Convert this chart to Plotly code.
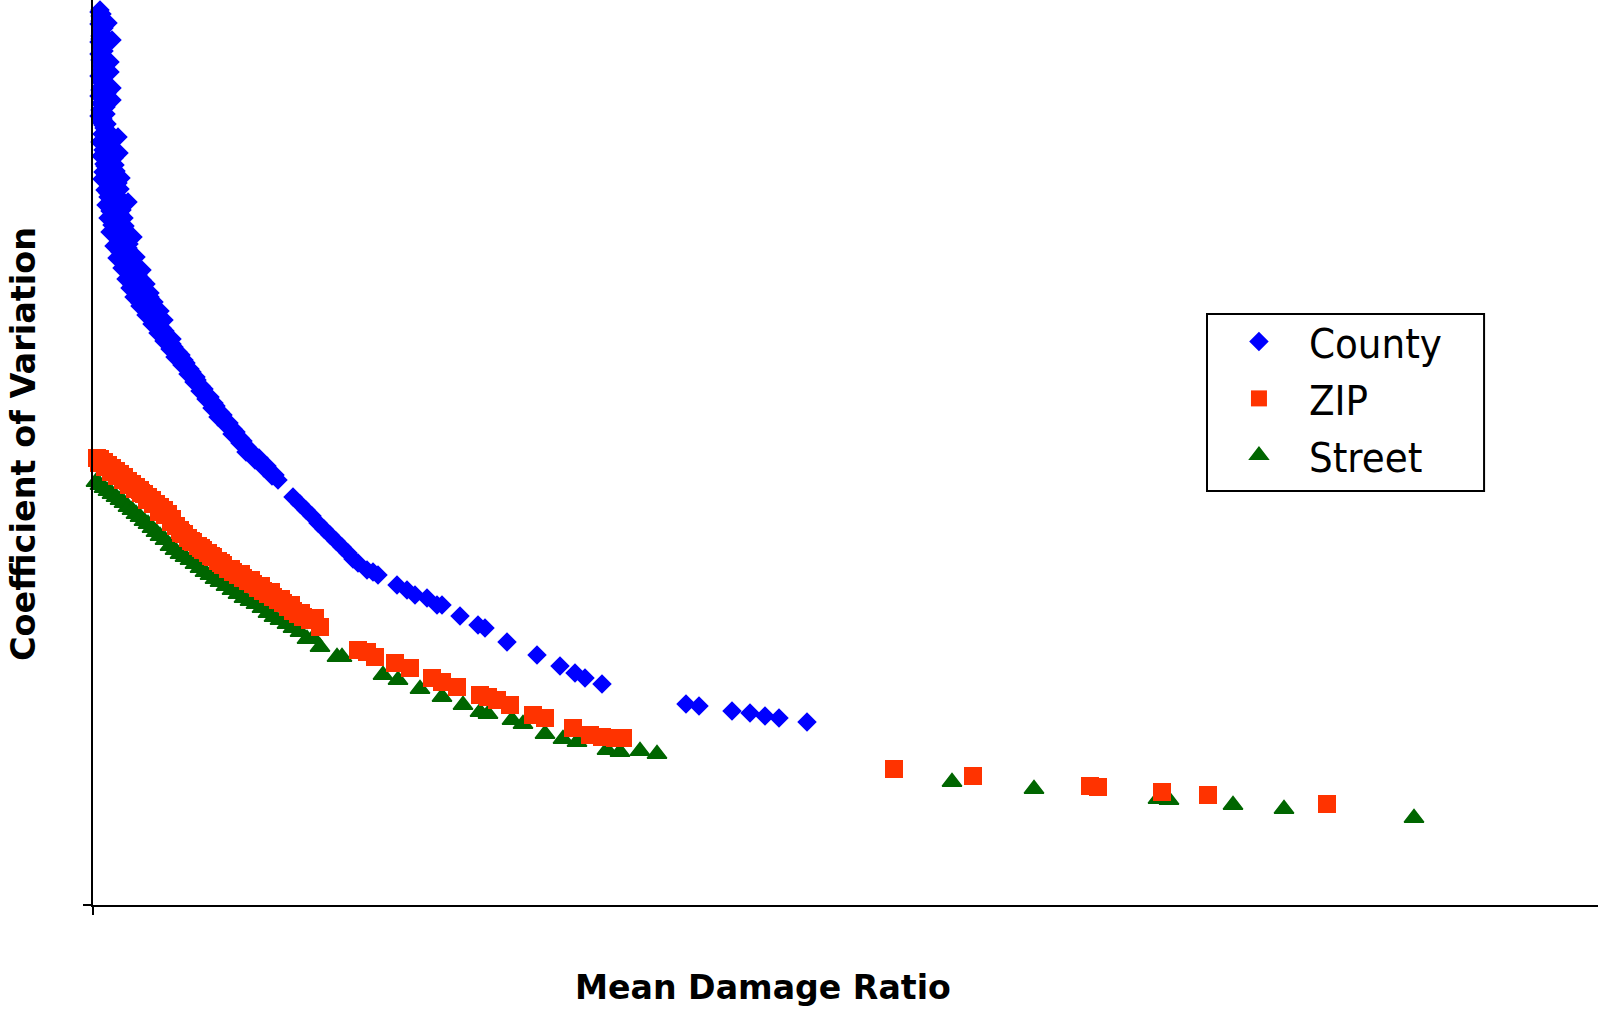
import plotly.graph_objects as go

# ---- data (Mean Damage Ratio, Coefficient of Variation) ----
county_x = [0.0035, 0.003, 0.004, 0.003, 0.0075, 0.004, 0.0035, 0.003, 0.0095, 0.004, 0.003, 0.0035,
            0.0085, 0.004, 0.0085, 0.003, 0.004, 0.0095, 0.0035, 0.003, 0.0095, 0.004, 0.0035, 0.003,
            0.004, 0.0055, 0.0045, 0.0125, 0.006,
            0.0045, 0.0035, 0.005, 0.0035, 0.0045, 0.0055, 0.004, 0.005, 0.0035, 0.006, 0.0045, 0.0055,
            0.004, 0.006, 0.0045, 0.0055, 0.004, 0.0065, 0.0045, 0.006, 0.0045, 0.007, 0.0045, 0.006,
            0.0045, 0.0065, 0.0045, 0.0065, 0.005, 0.007, 0.005, 0.0075, 0.006, 0.0085, 0.007,
            0.0035, 0.0065, 0.005, 0.013, 0.004, 0.007, 0.0055, 0.0085, 0.005, 0.0075, 0.014, 0.0065,
            0.0095, 0.006, 0.01, 0.0075, 0.0175, 0.0105,
            0.0085, 0.0095, 0.007, 0.0105, 0.0085, 0.011, 0.006, 0.0115, 0.0095, 0.0045, 0.0125, 0.0085,
            0.0135, 0.0075, 0.0125, 0.0085, 0.0145,
            0.0065, 0.0115, 0.0085, 0.0135, 0.0075, 0.0125, 0.0095, 0.0155, 0.0085, 0.02, 0.0115, 0.0145,
            0.0105, 0.0175, 0.0135, 0.019, 0.012, 0.0165, 0.0205, 0.0145, 0.0185, 0.0225, 0.0165, 0.021,
            0.0265, 0.0185, 0.0235, 0.0285, 0.0205, 0.026, 0.0305,
            0.0105, 0.0145, 0.0095, 0.0155, 0.0115, 0.016, 0.0125, 0.0175, 0.0135, 0.018, 0.0155, 0.0165,
            0.0215, 0.0145, 0.0185, 0.0165, 0.0245, 0.0205, 0.0245, 0.0195, 0.025, 0.0225, 0.0285, 0.0235,
            0.0235, 0.0285, 0.0335, 0.0265, 0.0315, 0.0355, 0.0295, 0.0345, 0.0325, 0.0375, 0.0355, 0.0395,
            0.0385, 0.0425, 0.041, 0.0455, 0.0445, 0.0485, 0.0475, 0.0515, 0.0505, 0.054, 0.0535, 0.057,
            0.0565, 0.0605, 0.0595, 0.0635, 0.0625, 0.0665, 0.0665, 0.07, 0.0695, 0.0735, 0.0735, 0.077,
            0.0765, 0.0805, 0.081, 0.0845, 0.0855, 0.0885, 0.0895, 0.0925,
            0.031, 0.0335, 0.036, 0.0395, 0.0405, 0.044, 0.0465, 0.0495, 0.052, 0.0555, 0.0585, 0.0615,
            0.065, 0.068, 0.0715, 0.075, 0.0785, 0.083, 0.087, 0.091,
            0.1, 0.1035, 0.1065, 0.1095, 0.1125, 0.1155, 0.1185, 0.1215, 0.1245, 0.1275, 0.13, 0.1325,
            0.137, 0.14, 0.1425, 0.152, 0.157, 0.161, 0.167, 0.172, 0.1745, 0.1835, 0.1925, 0.196,
            0.207, 0.222, 0.2335, 0.241, 0.246, 0.2545, 0.2965, 0.303, 0.3195, 0.3285, 0.336, 0.343, 0.357]
county_y = [8.95, 8.93, 8.87, 8.81, 8.82, 8.75, 8.69, 8.63, 8.65, 8.57, 8.51, 8.45,
            8.43, 8.39, 8.33, 8.29, 8.23, 8.17, 8.15, 8.09, 8.05, 8.01, 7.95, 7.89,
            7.83, 7.77, 7.71, 7.68, 7.65,
            8.91, 8.89, 8.85, 8.84, 8.79, 8.77, 8.72, 8.71, 8.66, 8.61, 8.59, 8.54,
            8.48, 8.47, 8.42, 8.36, 8.35, 8.31, 8.26, 8.20, 8.19, 8.12, 8.12, 8.07,
            8.03, 7.98, 7.92, 7.91, 7.86, 7.81, 7.80, 7.74, 7.73, 7.70, 7.67,
            7.63, 7.59, 7.55, 7.52, 7.49, 7.45, 7.41, 7.37, 7.33, 7.30, 7.27, 7.23,
            7.19, 7.15, 7.11, 7.08, 7.03, 7.05,
            7.61, 7.56, 7.53, 7.47, 7.43, 7.40, 7.39, 7.34, 7.28, 7.26, 7.22, 7.20,
            7.16, 7.12, 7.09, 7.02, 7.00,
            7.00, 6.98, 6.94, 6.91, 6.87, 6.84, 6.80, 6.77, 6.73, 6.68, 6.69, 6.63,
            6.59, 6.57, 6.53, 6.52, 6.47, 6.44, 6.41, 6.37, 6.33, 6.30, 6.26, 6.23,
            6.21, 6.17, 6.14, 6.12, 6.08, 6.05, 6.03,
            6.96, 6.95, 6.89, 6.87, 6.82, 6.79, 6.75, 6.72, 6.66, 6.61, 6.60, 6.55,
            6.48, 6.50, 6.45, 6.39, 6.35, 6.28, 6.25, 6.20, 6.18, 6.10, 6.08, 6.02,
            5.99, 5.96, 5.94, 5.90, 5.87, 5.85, 5.81, 5.77, 5.72, 5.69, 5.64, 5.61,
            5.56, 5.53, 5.48, 5.45, 5.40, 5.36, 5.31, 5.28, 5.23, 5.19, 5.14, 5.10,
            5.06, 5.02, 4.97, 4.93, 4.88, 4.84, 4.80, 4.76, 4.71, 4.67, 4.62, 4.58,
            4.53, 4.50, 4.45, 4.41, 4.37, 4.33, 4.29, 4.25,
            5.92, 5.83, 5.74, 5.66, 5.58, 5.50, 5.42, 5.33, 5.25, 5.16, 5.08, 4.99,
            4.90, 4.82, 4.73, 4.64, 4.55, 4.47, 4.39, 4.30,
            4.08, 4.01, 3.95, 3.89, 3.82, 3.76, 3.70, 3.64, 3.58, 3.52, 3.46, 3.42,
            3.35, 3.33, 3.30, 3.20, 3.15, 3.10, 3.07, 3.00, 3.00, 2.89, 2.80, 2.77,
            2.63, 2.50, 2.39, 2.32, 2.27, 2.21, 2.01, 1.99, 1.94, 1.92, 1.89, 1.87, 1.83]

zip_x = [0.002, 0.0035, 0.0055, 0.0075, 0.0095, 0.0115, 0.0135, 0.0155, 0.0175, 0.0195, 0.0215, 0.0235,
         0.0255, 0.0275, 0.0295, 0.0315, 0.0335, 0.0355, 0.0375, 0.0395, 0.0415, 0.0435, 0.0455, 0.0475,
         0.05, 0.0525, 0.055, 0.0575, 0.06, 0.0625, 0.065, 0.0675, 0.07, 0.0725, 0.075, 0.0775,
         0.08, 0.0825, 0.085, 0.0875, 0.09, 0.0925, 0.095, 0.0975, 0.1, 0.1025, 0.105, 0.1085, 0.1135,
         0.003, 0.006, 0.009, 0.012, 0.015, 0.018, 0.021, 0.024, 0.027, 0.030, 0.033, 0.036, 0.039,
         0.044, 0.049, 0.054, 0.059, 0.064, 0.069, 0.074, 0.079, 0.084, 0.089, 0.094, 0.099, 0.104, 0.111,
         0.1325, 0.137, 0.141, 0.151, 0.1585, 0.1695, 0.1745, 0.182, 0.1935, 0.1975, 0.202, 0.2085,
         0.22, 0.226, 0.24, 0.2485, 0.2545, 0.261, 0.265,
         0.4005, 0.44, 0.4985, 0.5025, 0.5345, 0.5575, 0.617]
zip_y = [4.47, 4.46, 4.43, 4.40, 4.37, 4.34, 4.31, 4.28, 4.24, 4.21, 4.18, 4.15,
         4.11, 4.08, 4.05, 4.01, 3.98, 3.95, 3.91, 3.86, 3.79, 3.75, 3.71, 3.67,
         3.63, 3.59, 3.55, 3.52, 3.48, 3.44, 3.40, 3.36, 3.33, 3.30, 3.27, 3.24,
         3.21, 3.17, 3.14, 3.11, 3.08, 3.05, 3.02, 2.98, 2.94, 2.91, 2.88, 2.85, 2.78,
         4.42, 4.38, 4.33, 4.29, 4.25, 4.20, 4.16, 4.12, 4.05, 4.01, 3.93, 3.90, 3.83,
         3.72, 3.64, 3.57, 3.49, 3.42, 3.36, 3.31, 3.25, 3.19, 3.13, 3.06, 3.00, 2.92, 2.87,
         2.55, 2.53, 2.48, 2.42, 2.37, 2.27, 2.23, 2.18, 2.10, 2.08, 2.05, 2.00,
         1.90, 1.87, 1.77, 1.70, 1.68, 1.67, 1.67,
         1.36, 1.29, 1.19, 1.18, 1.13, 1.10, 1.01]

street_x = [0.0015, 0.0035, 0.0055, 0.0075, 0.0095, 0.0115, 0.0135, 0.0155, 0.0175, 0.0195, 0.0215, 0.0235,
            0.0255, 0.0275, 0.0295, 0.0315, 0.0335, 0.036, 0.0385, 0.041, 0.0435, 0.046, 0.0485, 0.051,
            0.0535, 0.056, 0.0585, 0.061, 0.0635, 0.0665, 0.0695, 0.0725, 0.0755, 0.0785, 0.0815, 0.0845,
            0.0875, 0.0905, 0.0935, 0.097, 0.1, 0.1035, 0.107, 0.11, 0.1135, 0.122, 0.1245,
            0.145, 0.1525, 0.1635, 0.1745, 0.185, 0.1935, 0.1975, 0.2095, 0.215, 0.226, 0.235, 0.242,
            0.257, 0.2635, 0.2735, 0.282,
            0.4295, 0.4705, 0.5325, 0.538, 0.57, 0.5955, 0.6605]
street_y = [4.23, 4.20, 4.17, 4.14, 4.11, 4.08, 4.05, 4.02, 3.98, 3.95, 3.91, 3.88,
            3.84, 3.81, 3.77, 3.73, 3.69, 3.65, 3.59, 3.55, 3.51, 3.48, 3.45, 3.41,
            3.37, 3.33, 3.30, 3.26, 3.23, 3.19, 3.15, 3.11, 3.07, 3.04, 3.01, 2.97,
            2.92, 2.88, 2.85, 2.81, 2.77, 2.73, 2.66, 2.67, 2.58, 2.48, 2.48,
            2.30, 2.25, 2.16, 2.08, 2.00, 1.93, 1.91, 1.85, 1.81, 1.71, 1.66, 1.63,
            1.55, 1.53, 1.54, 1.51,
            1.23, 1.16, 1.06, 1.05, 1.00, 0.96, 0.87]

series_names = ["County", "ZIP", "Street"]
x_title = "Mean Damage Ratio"
y_title = "Coefficient of Variation"

# ---- styling ----
fig = go.Figure()
fig.add_trace(go.Scatter(x=county_x, y=county_y, mode="markers", name=series_names[0], legendrank=1,
                         cliponaxis=False,
                         marker=dict(symbol="diamond", size=15, color="#0000FF")))
fig.add_trace(go.Scatter(x=street_x, y=street_y, mode="markers", name=series_names[2], legendrank=3,
                         cliponaxis=False,
                         marker=dict(symbol="triangle-up", size=17, color="#006600",
                                     line=dict(width=1.5, color="#006600"))))
fig.add_trace(go.Scatter(x=zip_x, y=zip_y, mode="markers", name=series_names[1], legendrank=2,
                         cliponaxis=False,
                         marker=dict(symbol="square", size=18, color="#FF3300")))

axis_common = dict(showgrid=False, zeroline=False, showline=True, linecolor="black", linewidth=2,
                   ticks="outside", tickvals=[0], ticklen=8, tickwidth=2, tickcolor="black",
                   showticklabels=False, fixedrange=True)

fig.update_layout(
    width=1598, height=1011,
    margin=dict(l=93, r=0, t=0, b=106, pad=0),
    paper_bgcolor="white", plot_bgcolor="white",
    xaxis=dict(range=[0, 0.7525], **axis_common),
    yaxis=dict(range=[0, 9.05], **axis_common),
    showlegend=True,
    legend=dict(x=0.7415, y=0.6597, xanchor="left", yanchor="top",
                borderwidth=0, bgcolor="rgba(0,0,0,0)",
                font=dict(family="DejaVu Sans Condensed, DejaVu Sans", size=41.5, color="black"),
                itemwidth=90, tracegroupgap=0),
    shapes=[dict(type="rect", xref="paper", yref="paper",
                 x0=0.7402, x1=0.9243, y0=0.4575, y1=0.653,
                 line=dict(color="black", width=2), fillcolor="rgba(0,0,0,0)", layer="above")],
    annotations=[
        dict(text=x_title, x=0.4452, y=-0.0917, xref="paper", yref="paper",
             xanchor="center", yanchor="middle", showarrow=False,
             font=dict(family="DejaVu Sans", size=33.2, color="black", weight="bold")),
        dict(text=y_title, x=-0.0458, y=0.5094, xref="paper", yref="paper", textangle=-90,
             xanchor="center", yanchor="middle", showarrow=False,
             font=dict(family="DejaVu Sans", size=33.5, color="black", weight="bold")),
    ],
)

fig.write_html("out.html", config={"displayModeBar": False},
               post_script="document.body.style.margin='0';document.body.style.overflow='hidden';")
